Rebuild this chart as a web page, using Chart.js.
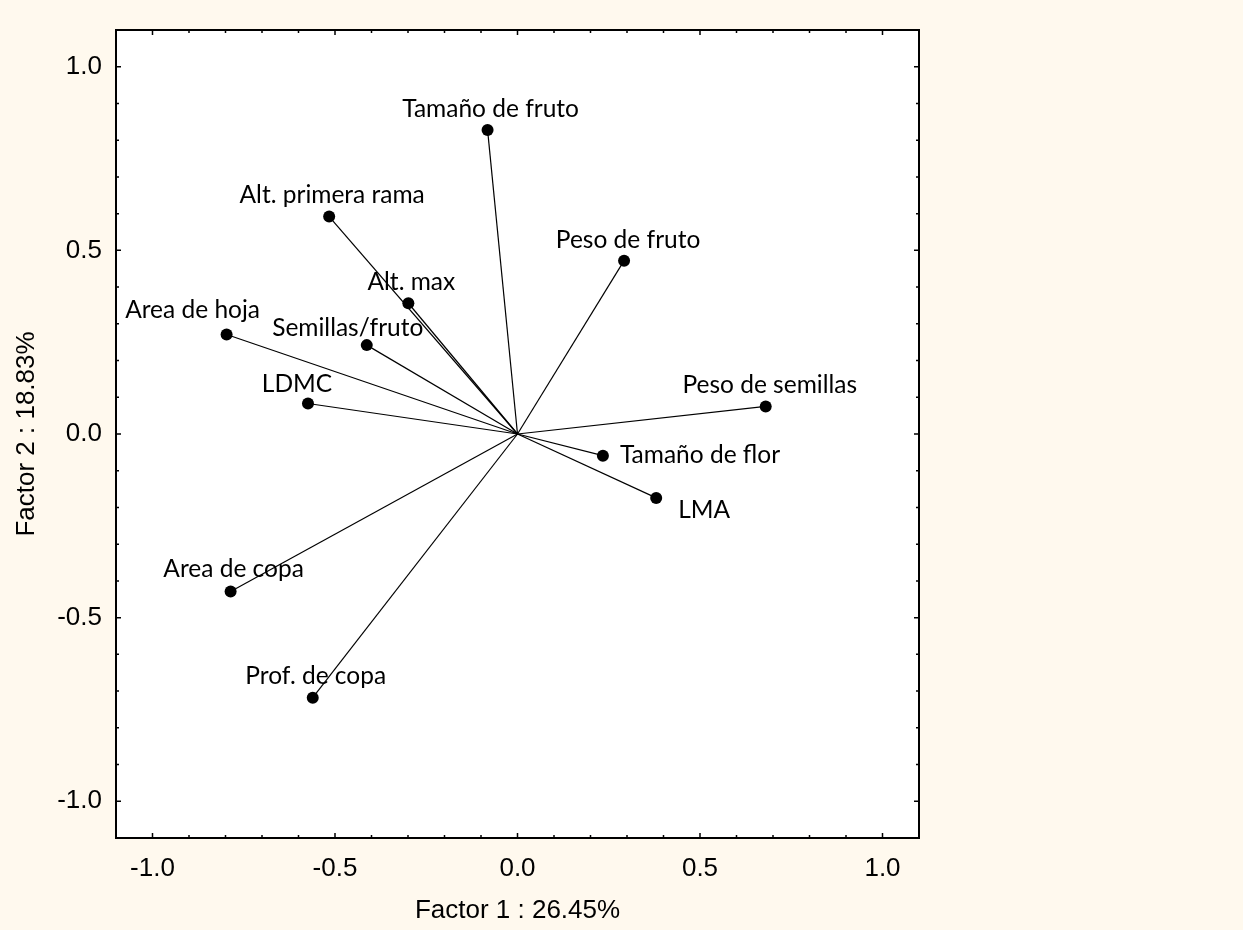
<!DOCTYPE html>
<html>
<head>
<meta charset="utf-8">
<script src="https://cdn.jsdelivr.net/npm/chart.js@4/dist/chart.umd.min.js"></script>
<style>
  html, body { margin: 0; padding: 0; background: #FFF9EE; }
  #wrap { width: 1243px; height: 930px; }
</style>
</head>
<body>
<div id="wrap"><canvas id="pca"></canvas></div>
<script>
// Variable loadings on the first two factors
const variables = ['Tamaño de fruto', 'Alt. primera rama', 'Peso de fruto', 'Alt. max', 'Area de hoja',
  'Semillas/fruto', 'LDMC', 'Peso de semillas', 'Tamaño de flor', 'LMA', 'Area de copa', 'Prof. de copa'];
const factor1 = [-0.082, -0.516, 0.292, -0.299, -0.797, -0.413, -0.574, 0.680, 0.234, 0.380, -0.786, -0.561];
const factor2 = [0.828, 0.592, 0.472, 0.356, 0.271, 0.242, 0.083, 0.075, -0.059, -0.174, -0.429, -0.718];

// Axis labels
const xTickValues = [-1.0, -0.5, 0.0, 0.5, 1.0];
const yTickValues = [-1.0, -0.5, 0.0, 0.5, 1.0];
const xTitle = 'Factor 1 : 26.45%';
const yTitle = 'Factor 2 : 18.83%';

// Where each variable name sits relative to its point: [dx, dy of baseline, alignment]
const labelPlacement = [
  [3, -13, 'center'], [3, -14, 'center'], [4, -13, 'center'], [3, -13, 'center'],
  [-34, -16, 'center'], [-19, -9, 'center'], [-11, -12, 'center'], [4, -13, 'center'],
  [17, 7, 'left'], [22, 20, 'left'], [3, -15, 'center'], [3, -14, 'center']
];

const TICK_FONT = { family: "'Liberation Sans', Arial, sans-serif", size: 26 };
const LABEL_FONT = "24.5px Lato, 'Open Sans', sans-serif";

const datasets = variables.map((name, i) => ({
  label: name,
  data: [{ x: 0, y: 0 }, { x: factor1[i], y: factor2[i] }],
  showLine: true,
  borderColor: '#000',
  borderWidth: 1.2,
  backgroundColor: '#000',
  pointBackgroundColor: '#000',
  pointBorderWidth: 0,
  pointRadius: [0, 6],
  pointHoverRadius: [0, 6]
}));

const framePlugin = {
  id: 'frame',
  beforeDraw(chart) {
    const { ctx, chartArea: a } = chart;
    ctx.save();
    ctx.fillStyle = '#FFF9EE';
    ctx.fillRect(0, 0, chart.width, chart.height);
    ctx.fillStyle = '#FFFFFF';
    ctx.fillRect(a.left, a.top, a.right - a.left, a.bottom - a.top);
    ctx.restore();
  },
  afterDatasetsDraw(chart) {
    const { ctx, chartArea: a, scales: { x, y } } = chart;
    ctx.save();
    // variable names
    ctx.fillStyle = '#000';
    ctx.font = LABEL_FONT;
    ctx.textBaseline = 'alphabetic';
    variables.forEach((name, i) => {
      const pt = chart.getDatasetMeta(i).data[1];
      const [dx, dy, align] = labelPlacement[i];
      ctx.textAlign = align;
      ctx.fillText(name, pt.x + dx, pt.y + dy);
    });
    // frame
    ctx.strokeStyle = '#000';
    ctx.lineWidth = 2;
    ctx.strokeRect(a.left, a.top, a.right - a.left, a.bottom - a.top);
    // inward tick marks every 0.1, longer at labelled values
    ctx.lineWidth = 1.5;
    ctx.beginPath();
    for (let k = -10; k <= 10; k++) {
      const v = k / 10;
      const len = k % 5 === 0 ? 5 : 3;
      const px = x.getPixelForValue(v);
      ctx.moveTo(px, a.bottom); ctx.lineTo(px, a.bottom - len);
      ctx.moveTo(px, a.top); ctx.lineTo(px, a.top + len);
      const py = y.getPixelForValue(v);
      ctx.moveTo(a.left, py); ctx.lineTo(a.left + len, py);
      ctx.moveTo(a.right, py); ctx.lineTo(a.right - len, py);
    }
    ctx.stroke();
    ctx.restore();
  }
};

new Chart(document.getElementById('pca'), {
  type: 'scatter',
  data: { datasets },
  options: {
    responsive: true,
    maintainAspectRatio: false,
    animation: false,
    layout: { padding: { top: 30, right: 324, bottom: 0, left: 0 } },
    plugins: { legend: { display: false }, tooltip: { enabled: false } },
    scales: {
      x: {
        type: 'linear', min: -1.1, max: 1.1,
        grid: { display: false, drawTicks: false }, border: { display: false },
        afterBuildTicks: s => { s.ticks = xTickValues.map(v => ({ value: v })); },
        afterFit: s => { s.height = 92; },
        ticks: { color: '#000', font: TICK_FONT, padding: 15, maxRotation: 0,
          callback: v => v.toFixed(1) },
        title: { display: true, text: xTitle, color: '#000', font: TICK_FONT, padding: { top: 0, bottom: 4 } }
      },
      y: {
        type: 'linear', min: -1.1, max: 1.1,
        grid: { display: false, drawTicks: false }, border: { display: false },
        afterBuildTicks: s => { s.ticks = yTickValues.map(v => ({ value: v })); },
        afterFit: s => { s.width = 116; },
        ticks: { color: '#000', font: TICK_FONT, padding: 14,
          callback: v => v.toFixed(1) },
        title: { display: true, text: yTitle, color: '#000', font: TICK_FONT, padding: { top: 11, bottom: 0 } }
      }
    }
  },
  plugins: [framePlugin]
});
</script>
</body>
</html>
